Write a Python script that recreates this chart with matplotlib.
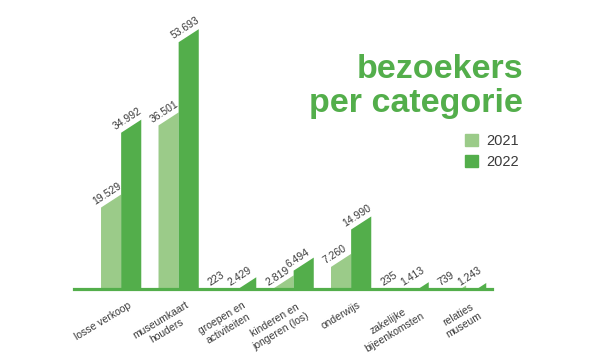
import numpy as np
import matplotlib.pyplot as plt
from matplotlib.patches import Patch

plt.rcParams['font.family'] = ['Liberation Sans', 'DejaVu Sans']

# categories and visitor counts per year
categories = ['losse verkoop', 'museumkaart\nhouders', 'groepen en\nactiviteiten',
              'kinderen en\njongeren (los)', 'onderwijs', 'zakelijke\nbijeenkomsten',
              'relaties\nmuseum']
visitors_2021 = [19529, 36501, 223, 2819, 7260, 235, 739]
visitors_2022 = [34992, 53693, 2429, 6494, 14990, 1413, 1243]
years = ['2021', '2022']

LIGHT = '#9bcb89'
DARK = '#53ae4b'
TEXT = '#3a3a3a'
SLANT = 2700      # drop of the top-left corner of each bar (data units)
WIDTH = 0.35      # bar width in group units


def fmt(v):
    return f'{v:,}'.replace(',', '.')


fig = plt.figure(figsize=(6.04, 3.62), dpi=100)
W, H = 604, 362
ax = fig.add_axes([74 / W, 73 / H, (492 - 74) / W, 271 / H])
ax.set_xlim(-0.82, 6.45)
ax.set_ylim(0, 56000)
ax.axis('off')

x = np.arange(len(categories))
for vals, offset, color in [(visitors_2021, -WIDTH, LIGHT), (visitors_2022, 0, DARK)]:
    for xi, v in zip(x, vals):
        x0 = xi + offset
        x1 = x0 + WIDTH
        ax.fill([x0, x0, x1, x1], [0, v - SLANT, v, 0], color=color, lw=0)
        ax.annotate(fmt(v), (x0, max(v - SLANT, 0)), xytext=(-3.2, 0.8),
                    textcoords='offset points', rotation=33, rotation_mode='anchor',
                    ha='left', va='bottom', fontsize=7.5, color=TEXT)

ax.axhline(0, color=DARK, lw=2.3, clip_on=False)

for xi, lab in zip(x, categories):
    ax.annotate(lab, (xi, 0), xytext=(4.5, -8), textcoords='offset points',
                rotation=31, rotation_mode='anchor', ha='right', va='top',
                multialignment='center', fontsize=7.5, color=TEXT,
                linespacing=1.25)

fig.text(523 / W, 1 - 112 / H, 'bezoekers\nper categorie', ha='right', va='baseline',
         fontsize=24.5, fontweight='bold', color=DARK, linespacing=1.12)

handles = [Patch(color=LIGHT), Patch(color=DARK)]
fig.legend(handles, years, loc='upper left', bbox_to_anchor=(452 / W, 1 - 121 / H),
           frameon=False, fontsize=10.5, handlelength=0.9, handleheight=0.9,
           handletextpad=0.55, labelspacing=0.45, labelcolor=TEXT)

fig.savefig('out.png', dpi=100)
